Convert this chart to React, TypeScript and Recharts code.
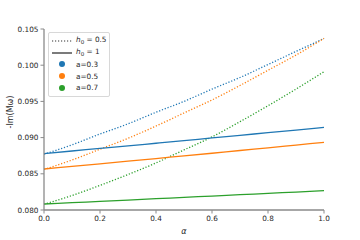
import { LineChart, Line, XAxis, YAxis } from 'recharts';

// alpha grid and -Im(M omega) readings
const alphas = [0, 0.1, 0.2, 0.3, 0.4, 0.5, 0.6, 0.7, 0.8, 0.9, 1.0];

// h0 = 0.5 (dotted)
const a03Half = [0.0877, 0.0890, 0.0905, 0.0919, 0.0935, 0.0950, 0.0967, 0.0983, 0.1001, 0.1019, 0.1037];
const a05Half = [0.0856, 0.0869, 0.0884, 0.0899, 0.0916, 0.0934, 0.0952, 0.0972, 0.0993, 0.1014, 0.1037];
const a07Half = [0.0808, 0.0820, 0.0834, 0.0849, 0.0865, 0.0883, 0.0901, 0.0922, 0.0944, 0.0967, 0.0991];

// h0 = 1 (solid)
const a03One = [0.08780, 0.08815, 0.08851, 0.08886, 0.08922, 0.08958, 0.08995, 0.09031, 0.09068, 0.09104, 0.09141];
const a05One = [0.08566, 0.08602, 0.08638, 0.08674, 0.08711, 0.08747, 0.08784, 0.08822, 0.08859, 0.08897, 0.08935];
const a07One = [0.08083, 0.08101, 0.08119, 0.08137, 0.08156, 0.08174, 0.08193, 0.08211, 0.08230, 0.08248, 0.08267];

const xTicks = [0, 0.2, 0.4, 0.6, 0.8, 1.0];
const yTicks = [0.08, 0.085, 0.09, 0.095, 0.1, 0.105];

const labels = ['a=0.3', 'a=0.5', 'a=0.7'];
const colors = ['#1f77b4', '#ff7f0e', '#2ca02c'];

const data = alphas.map((x, i) => ({
  x,
  d03: a03Half[i],
  d05: a05Half[i],
  d07: a07Half[i],
  s03: a03One[i],
  s05: a05One[i],
  s07: a07One[i],
}));

const font = '"DejaVu Sans", sans-serif';
const frame = '#8a8a8a';
const tickText = { fontSize: 7.3, fill: '#262626', fontFamily: font };

const LegendBox = () => {
  const row = { display: 'flex', alignItems: 'center', height: 11.8, whiteSpace: 'nowrap' as const };
  const sample = { width: 20, marginLeft: 3, marginRight: 4, display: 'flex', justifyContent: 'center' };
  return (
    <div
      style={{
        position: 'absolute',
        left: 48,
        top: 32,
        border: '1px solid #d8d8d8',
        borderRadius: 2,
        background: 'rgba(255,255,255,0.85)',
        padding: '2px 3px 2px 0',
        fontFamily: font,
        fontSize: 7.3,
        color: '#262626',
        lineHeight: 1,
      }}
    >
      <div style={row}>
        <span style={sample}>
          <svg width={20} height={4}>
            <line x1={0} y1={2} x2={20} y2={2} stroke="#333" strokeWidth={1.2} strokeDasharray="1.2 1.8" />
          </svg>
        </span>
        <span><i>h</i><sub style={{ fontSize: 5.5, verticalAlign: -1.5 }}>0</sub> = 0.5</span>
      </div>
      <div style={row}>
        <span style={sample}>
          <svg width={20} height={4}>
            <line x1={0} y1={2} x2={20} y2={2} stroke="#333" strokeWidth={1.3} />
          </svg>
        </span>
        <span><i>h</i><sub style={{ fontSize: 5.5, verticalAlign: -1.5 }}>0</sub> = 1</span>
      </div>
      {labels.map((l, i) => (
        <div style={row} key={l}>
          <span style={sample}>
            <svg width={8} height={8}>
              <circle cx={4} cy={4} r={3} fill={colors[i]} />
            </svg>
          </span>
          <span>{l}</span>
        </div>
      ))}
    </div>
  );
};

export default function App() {
  return (
    <div style={{ position: 'absolute', left: 0, top: 0, width: 360, height: 240, background: '#fff' }}>
      <LineChart width={360} height={240} data={data} margin={{ top: 29, right: 36, bottom: 0, left: 0 }}>
        <XAxis
          dataKey="x"
          type="number"
          domain={[0, 1]}
          ticks={xTicks}
          tickFormatter={(v: number) => v.toFixed(1)}
          height={30}
          tickSize={3.5}
          tick={tickText}
          axisLine={{ stroke: frame, strokeWidth: 1.3 }}
          tickLine={{ stroke: frame }}
          label={{ value: 'α', position: 'insideBottom', offset: 6, style: { fontSize: 8, fontStyle: 'italic', fill: '#262626', fontFamily: font } }}
        />
        <XAxis xAxisId="top" dataKey="x" type="number" domain={[0, 1]} orientation="top" height={0} tick={false} tickLine={false} axisLine={{ stroke: frame, strokeWidth: 1.3 }} />
        <YAxis
          type="number"
          domain={[0.08, 0.105]}
          ticks={yTicks}
          tickFormatter={(v: number) => v.toFixed(3)}
          width={44}
          tickSize={3.5}
          tick={tickText}
          axisLine={{ stroke: frame, strokeWidth: 1.3 }}
          tickLine={{ stroke: frame }}
          allowDataOverflow
        />
        <YAxis yAxisId="right" orientation="right" type="number" domain={[0.08, 0.105]} width={0} tick={false} tickLine={false} axisLine={{ stroke: frame, strokeWidth: 1.3 }} />
        {['03', '05', '07'].map((k, i) => (
          <Line key={'d' + k} dataKey={'d' + k} stroke={colors[i]} strokeWidth={1.3} strokeDasharray="1.2 1.8" dot={false} type="monotone" isAnimationActive={false} />
        ))}
        {['03', '05', '07'].map((k, i) => (
          <Line key={'s' + k} dataKey={'s' + k} stroke={colors[i]} strokeWidth={1.3} dot={false} type="monotone" isAnimationActive={false} />
        ))}
      </LineChart>
      <LegendBox />
      <div
        style={{
          position: 'absolute',
          left: 10,
          top: 112,
          transform: 'translate(-50%, -50%) rotate(-90deg)',
          fontFamily: font,
          fontSize: 8,
          color: '#262626',
          whiteSpace: 'nowrap',
        }}
      >
        -Im(Mω)
      </div>
    </div>
  );
}
